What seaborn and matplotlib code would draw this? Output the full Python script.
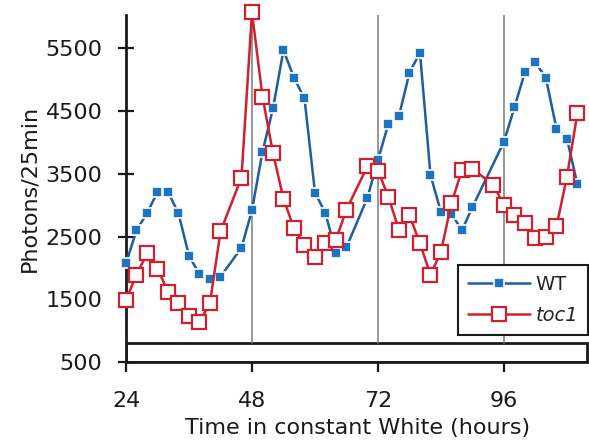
"""
Bioluminescence rhythms of WT vs toc1 in constant white light.
"""

import matplotlib
matplotlib.use("Agg")
import matplotlib.pyplot as plt
import pandas as pd
import seaborn as sns

# --- data ---------------------------------------------------------------
wt_hours = [24, 26, 28, 30, 32, 34, 36, 38, 40, 42, 46, 48, 50, 52, 54, 56, 58,
            60, 62, 64, 66, 70, 72, 74, 76, 78, 80, 82, 84, 86, 88, 90, 96, 98,
            100, 102, 104, 106, 108, 110]
wt_photons = [2070, 2600, 2870, 3210, 3210, 2870, 2190, 1900, 1830, 1860, 2320,
              2920, 3850, 4540, 5470, 5030, 4700, 3200, 2870, 2240, 2330, 3120,
              3720, 4300, 4420, 5110, 5430, 3480, 2890, 2860, 2600, 2970, 4010,
              4560, 5120, 5280, 5020, 4220, 4060, 3330]

toc1_hours = [24, 26, 28, 30, 32, 34, 36, 38, 40, 42, 46, 48, 50, 52, 54, 56, 58,
              60, 62, 64, 66, 70, 72, 74, 76, 78, 80, 82, 84, 86, 88, 90, 94, 96,
              98, 100, 102, 104, 106, 108, 110]
toc1_photons = [1490, 1890, 2230, 1990, 1620, 1440, 1230, 1140, 1440, 2580, 3440,
                6070, 4730, 3830, 3100, 2630, 2360, 2180, 2390, 2450, 2930, 3620,
                3550, 3130, 2600, 2840, 2390, 1890, 2260, 3030, 3560, 3580, 3320,
                3000, 2840, 2710, 2470, 2490, 2660, 3450, 4470]

day_lines = [48, 72, 96]
light_bar = (500, 800)
x_ticks = [24, 48, 72, 96]
y_ticks = [500, 1500, 2500, 3500, 4500, 5500]

wt_df = pd.DataFrame({"hours": wt_hours, "photons": wt_photons})
toc1_df = pd.DataFrame({"hours": toc1_hours, "photons": toc1_photons})

# --- style ---------------------------------------------------------------
sns.set_style("ticks")
plt.rcParams["font.family"] = ["DejaVu Sans"]

BLUE_LINE = "#1f5d9e"
BLUE_MARK = "#1c74c2"
RED = "#d0202e"
INK = "#1a1a1a"

fig = plt.figure(figsize=(5.89, 4.47), dpi=100)
ax = fig.add_axes([126 / 589, 85 / 447, 463 / 589, 347 / 447])

# light regime bar and day boundaries
ax.axhspan(*light_bar, xmin=0, xmax=0.995, facecolor="white",
           edgecolor=INK, linewidth=2, zorder=1)
for d in day_lines:
    ax.axvline(d, ymin=(light_bar[1] - 500) / (6030 - 500), ymax=1,
               color="#7a7a7a", linewidth=1.1, zorder=1)

sns.lineplot(data=wt_df, x="hours", y="photons", ax=ax, color=BLUE_LINE,
             linewidth=1.8, marker="s", markersize=7.5, markerfacecolor=BLUE_MARK,
             markeredgecolor="white", markeredgewidth=1.2, label="WT",
             zorder=3, clip_on=False)
sns.lineplot(data=toc1_df, x="hours", y="photons", ax=ax, color=RED,
             linewidth=1.8, marker="s", markersize=10, markerfacecolor="white",
             markeredgecolor=RED, markeredgewidth=1.6, label="toc1",
             zorder=4, clip_on=False)

ax.set_xlim(24, 112.2)
ax.set_ylim(500, 6030)
ax.set_xticks(x_ticks)
ax.set_yticks(y_ticks)
ax.tick_params(axis="y", direction="inout", length=12, width=1.6,
               labelsize=16, pad=11, colors=INK)
ax.tick_params(axis="x", direction="out", length=7, width=1.6,
               labelsize=16, pad=14, colors=INK)

for side in ["top", "right"]:
    ax.spines[side].set_visible(False)
for side in ["left", "bottom"]:
    ax.spines[side].set_linewidth(2)
    ax.spines[side].set_color(INK)

ax.set_xlabel("Time in constant White (hours)", fontsize=16, color=INK,
              labelpad=5)
ax.set_ylabel("Photons/25min", fontsize=16, color=INK, labelpad=4)

leg = ax.legend(loc="upper left", bbox_to_anchor=(0.717, 0.28), fontsize=14,
                frameon=True, fancybox=False, framealpha=1, edgecolor=INK,
                handlelength=3.2, handletextpad=0.3, borderpad=0.5,
                labelspacing=0.65, borderaxespad=0)
leg.get_frame().set_linewidth(1.5)
leg.texts[1].set_style("italic")

fig.savefig("out.png", dpi=100)
